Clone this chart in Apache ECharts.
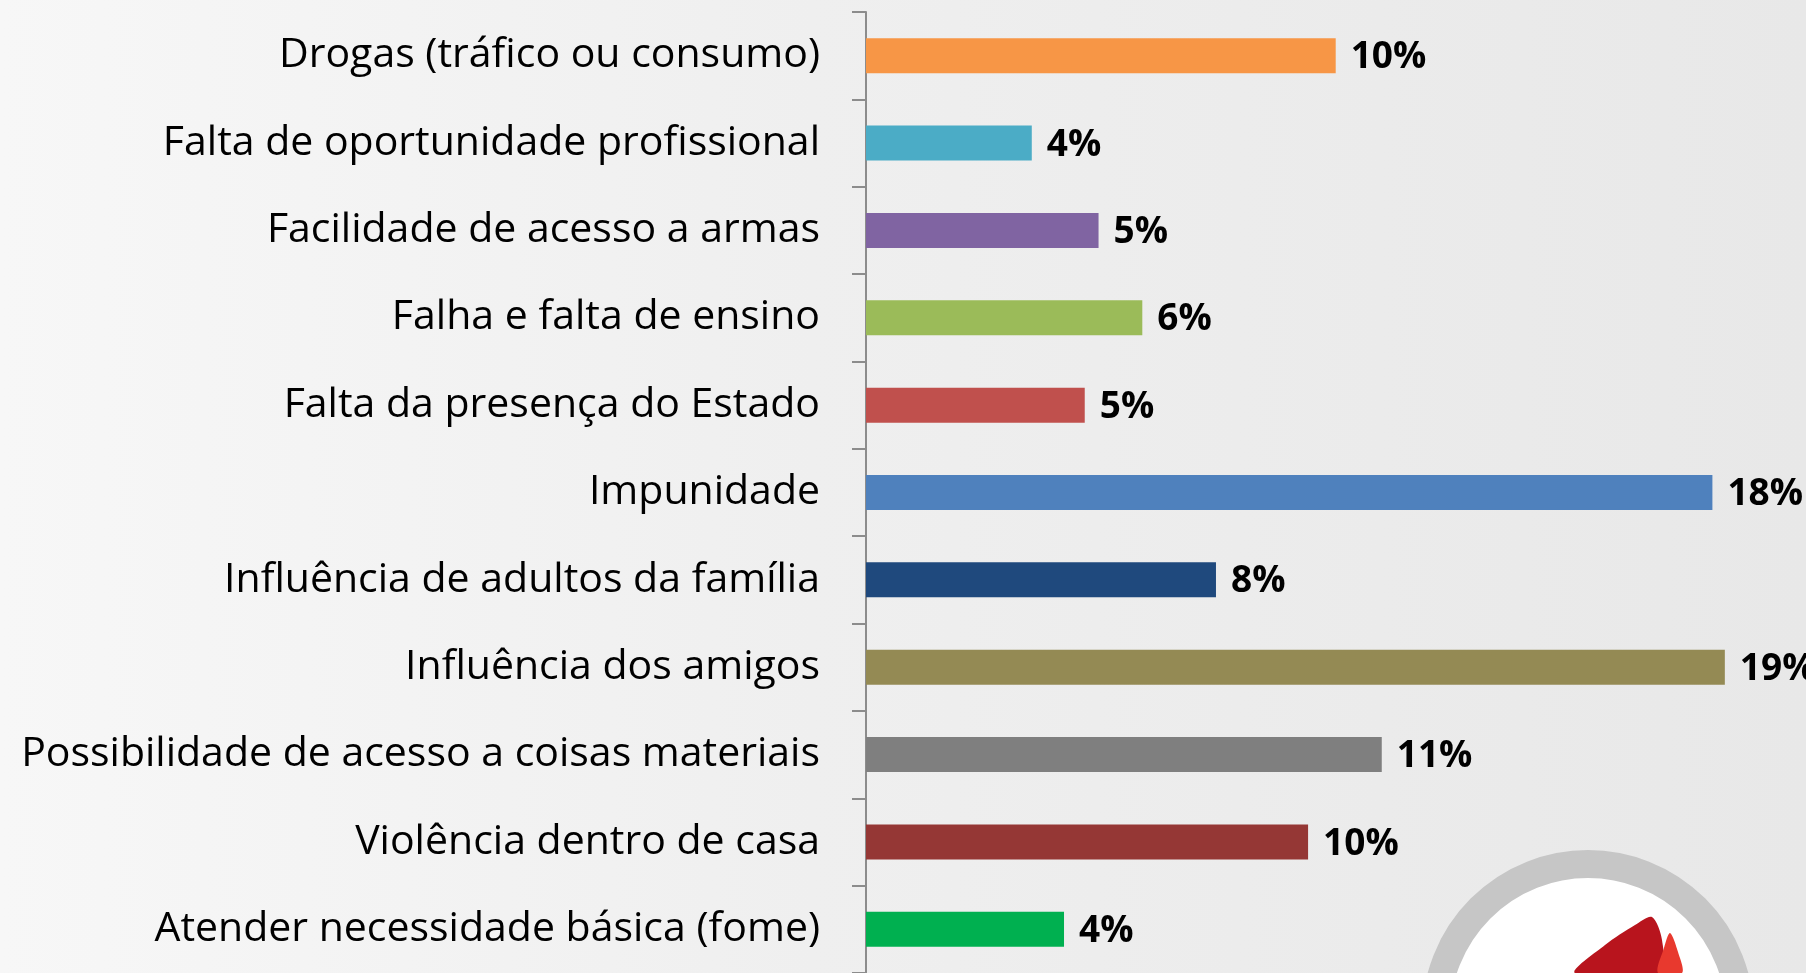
<!DOCTYPE html>
<html>
<head>
<meta charset="utf-8">
<script src="https://cdn.jsdelivr.net/npm/echarts@6/dist/echarts.min.js"></script>
<style>
  html, body { margin: 0; padding: 0; }
  #chart { width: 1806px; height: 973px; }
</style>
</head>
<body>
<div id="chart"></div>
<script>
  // categories, top to bottom
  let categories = [
    'Drogas (tráfico ou consumo)',
    'Falta de oportunidade profissional',
    'Facilidade de acesso a armas',
    'Falha e falta de ensino',
    'Falta da presença do Estado',
    'Impunidade',
    'Influência de adultos da família',
    'Influência dos amigos',
    'Possibilidade de acesso a coisas materiais',
    'Violência dentro de casa',
    'Atender necessidade básica (fome)'
  ]
  // percent values
  let values = [10.2, 3.6, 5.05, 6.0, 4.75, 18.38, 7.6, 18.65, 11.2, 9.6, 4.3]
  let barColors = [
    '#F79646', '#4BACC6', '#8064A2', '#9BBB59', '#C0504D', '#4F81BD',
    '#1F497D', '#948A54', '#7F7F7F', '#953735', '#00B050'
  ]

  let myChart = echarts.init(document.getElementById('chart'))

  let option = {
    backgroundColor: {
      type: 'linear',
      x: 0, y: 0, x2: 1, y2: 0,
      colorStops: [
        { offset: 0, color: '#f7f7f7' },
        { offset: 0.45, color: '#efefef' },
        { offset: 1, color: '#e8e8e8' }
      ]
    },
    graphic: [
      {
        type: 'circle',
        shape: { cx: 1588, cy: 1016, r: 152 },
        style: { fill: '#ffffff', stroke: '#c6c6c6', lineWidth: 28 },
        z: -1
      },
      {
        type: 'polygon',
        shape: {
          points: [[1575, 973], [1605, 945], [1635, 925], [1652, 917], [1662, 940], [1660, 973]],
          smooth: 0.3
        },
        style: { fill: '#b8141d' },
        z: -1
      },
      {
        type: 'polygon',
        shape: {
          points: [[1658, 973], [1664, 948], [1670, 933], [1678, 952], [1682, 973]],
          smooth: 0.3
        },
        style: { fill: '#e8392e' },
        z: -1
      }
    ],
    grid: {
      left: 866,
      top: 12,
      width: 921,
      height: 962
    },
    xAxis: {
      type: 'value',
      min: 0,
      max: 20,
      show: false
    },
    yAxis: {
      type: 'category',
      inverse: true,
      data: categories,
      axisLine: {
        show: true,
        lineStyle: { color: '#8c8c8c', width: 2 }
      },
      axisTick: {
        show: true,
        length: 14,
        lineStyle: { color: '#8c8c8c', width: 2 }
      },
      axisLabel: {
        margin: 46,
        color: '#000',
        fontFamily: 'Open Sans',
        fontSize: 41,
        padding: [5, 0, 0, 0]
      },
      splitLine: { show: false }
    },
    series: [{
      type: 'bar',
      barWidth: 35,
      data: values.map(function (v, i) {
        return { value: v, itemStyle: { color: barColors[i] } }
      }),
      label: {
        show: true,
        position: 'right',
        distance: 15,
        offset: [0, 2],
        color: '#000',
        fontFamily: 'Open Sans',
        fontWeight: 'bold',
        fontSize: 37,
        formatter: function (p) {
          return Math.round(p.value) + '%'
        }
      },
      animation: false
    }]
  }

  myChart.setOption(option)
</script>
</body>
</html>
